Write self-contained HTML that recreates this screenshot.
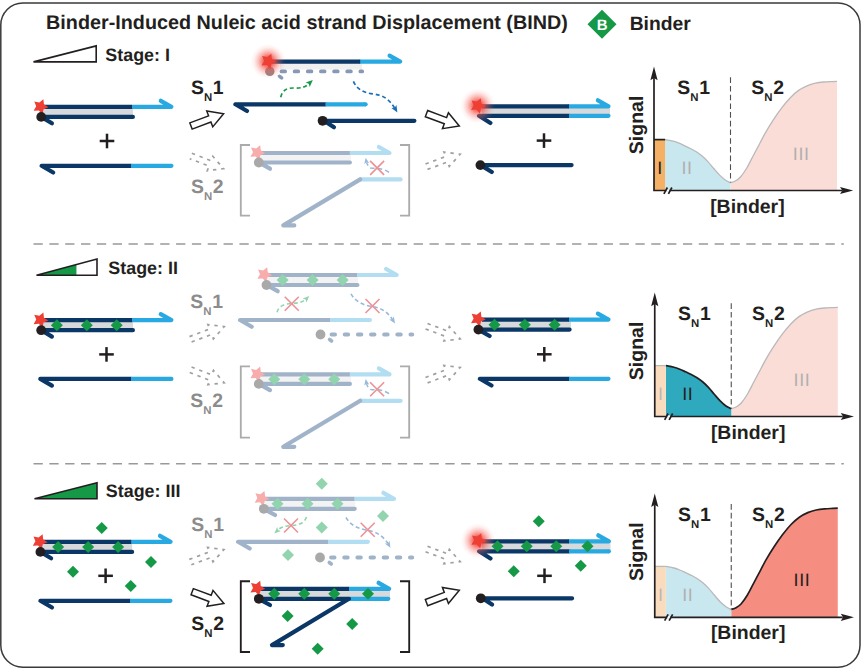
<!DOCTYPE html>
<html><head><meta charset="utf-8"><title>BIND</title>
<style>html,body{margin:0;padding:0;background:#fff;}svg{display:block;}text{font-family:"Liberation Sans",sans-serif;text-rendering:geometricPrecision;}</style></head><body>
<svg width="865" height="668" viewBox="0 0 865 668">
<defs><radialGradient id="glow" cx="50%" cy="50%" r="50%"><stop offset="0" stop-color="#f03c32" stop-opacity="0.95"/><stop offset="0.3" stop-color="#f24a40" stop-opacity="0.78"/><stop offset="0.6" stop-color="#f5645a" stop-opacity="0.36"/><stop offset="0.82" stop-color="#f7736a" stop-opacity="0.1"/><stop offset="1" stop-color="#f87b72" stop-opacity="0"/></radialGradient></defs>
<rect x="0" y="0" width="865" height="668" fill="#fff"/>
<rect x="0.8" y="3" width="859.2" height="664.2" rx="22" ry="22" fill="#fff" stroke="#3a3a3a" stroke-width="1.5"/>
<text x="46.1" y="28.8" font-size="19.78" font-weight="700" fill="#231f20">Binder-Induced Nuleic acid strand Displacement (BIND)</text>
<polygon points="587.5,24.3 602,9.8 616.5,24.3 602,38.8" fill="#159947"/>
<text x="602.1" y="29.7" font-size="15" font-weight="700" fill="#fff" text-anchor="middle">B</text>
<text x="629.7" y="30.2" font-size="19.3" font-weight="700" fill="#231f20">Binder</text>
<line x1="33.5" y1="244.1" x2="843.8" y2="244.1" stroke="#999" stroke-width="1.5" stroke-dasharray="9.3 6.54"/>
<line x1="33.5" y1="463.7" x2="843.8" y2="463.7" stroke="#999" stroke-width="1.5" stroke-dasharray="9.3 6.54"/>
<polygon points="33.5,61.9 96.2,61.9 96.2,45.9" fill="#fff"/><polygon points="33.5,61.9 96.2,61.9 96.2,45.9" fill="none" stroke="#231f20" stroke-width="1.6" stroke-linejoin="miter"/><text x="105.3" y="60.6" font-size="17.9" font-weight="700" fill="#231f20">Stage: I</text>
<polygon points="36.5,275.3 97,275.3 97,259" fill="#fff"/><polygon points="36.5,275.3 76.43,275.3 76.43,264.54" fill="#159947"/><polygon points="36.5,275.3 97,275.3 97,259" fill="none" stroke="#231f20" stroke-width="1.6" stroke-linejoin="miter"/><text x="108.3" y="273.8" font-size="17.9" font-weight="700" fill="#231f20">Stage: II</text>
<polygon points="34.5,498.7 97,498.7 97,482.7" fill="#fff"/><polygon points="34.5,498.7 97,498.7 97,482.7" fill="#159947"/><polygon points="34.5,498.7 97,498.7 97,482.7" fill="none" stroke="#231f20" stroke-width="1.6" stroke-linejoin="miter"/><text x="105.8" y="497.3" font-size="17.9" font-weight="700" fill="#231f20">Stage: III</text>
<rect x="42" y="107.8" width="91" height="8.1" fill="#d8d9da"/><polyline points="132,106.8 171.4,106.8 160.8,100.8" fill="none" stroke="#29a9e1" stroke-width="4.2" stroke-linecap="round" stroke-linejoin="round" /><line x1="44" y1="106.8" x2="132" y2="106.8" stroke="#0b3766" stroke-width="4.2" stroke-linecap="butt" /><polyline points="51.9,123.3 41.3,116.9 132.9,116.9" fill="none" stroke="#0b3766" stroke-width="4.2" stroke-linecap="round" stroke-linejoin="round" /><polygon points="43.4,99.18 43.96,104.37 48.38,107.16 43.62,109.3 42.34,114.36 38.83,110.49 33.62,110.84 36.21,106.31 34.27,101.46 39.38,102.52" fill="#ee3f34"/><circle cx="41.2" cy="116.9" r="4.9" fill="#231f20"/>
<line x1="99.7" y1="141" x2="114.3" y2="141" stroke="#231f20" stroke-width="2.5" stroke-linecap="butt" /><line x1="107" y1="133.7" x2="107" y2="148.3" stroke="#231f20" stroke-width="2.5" stroke-linecap="butt" />
<polyline points="53.2,172.5 41.6,165.8 131,165.8" fill="none" stroke="#0b3766" stroke-width="4.2" stroke-linecap="round" stroke-linejoin="round" /><line x1="131" y1="165.8" x2="171.4" y2="165.8" stroke="#29a9e1" stroke-width="4.2" stroke-linecap="butt" /><circle cx="171.4" cy="165.8" r="2.1" fill="#29a9e1"/>
<rect x="42" y="321.1" width="91" height="8.1" fill="#d8d9da"/><polyline points="132,320.1 171.4,320.1 160.8,314.1" fill="none" stroke="#29a9e1" stroke-width="4.2" stroke-linecap="round" stroke-linejoin="round" /><line x1="44" y1="320.1" x2="132" y2="320.1" stroke="#0b3766" stroke-width="4.2" stroke-linecap="butt" /><polyline points="51.9,336.6 41.3,330.2 132.9,330.2" fill="none" stroke="#0b3766" stroke-width="4.2" stroke-linecap="round" stroke-linejoin="round" /><polygon points="50.9,325.35 56.9,319.35 62.9,325.35 56.9,331.35" fill="#159947"/><polygon points="80.8,325.35 86.8,319.35 92.8,325.35 86.8,331.35" fill="#159947"/><polygon points="110.7,325.35 116.7,319.35 122.7,325.35 116.7,331.35" fill="#159947"/><polygon points="43.4,312.48 43.96,317.67 48.38,320.46 43.62,322.6 42.34,327.66 38.83,323.79 33.62,324.14 36.21,319.61 34.27,314.76 39.38,315.82" fill="#ee3f34"/><circle cx="41.2" cy="330.2" r="4.9" fill="#231f20"/>
<line x1="99.2" y1="354.4" x2="113.8" y2="354.4" stroke="#231f20" stroke-width="2.5" stroke-linecap="butt" /><line x1="106.5" y1="347.1" x2="106.5" y2="361.7" stroke="#231f20" stroke-width="2.5" stroke-linecap="butt" />
<polyline points="51.9,385.6 40.3,378.9 131,378.9" fill="none" stroke="#0b3766" stroke-width="4.2" stroke-linecap="round" stroke-linejoin="round" /><line x1="131" y1="378.9" x2="171.4" y2="378.9" stroke="#29a9e1" stroke-width="4.2" stroke-linecap="butt" /><circle cx="171.4" cy="378.9" r="2.1" fill="#29a9e1"/>
<rect x="41.2" y="542.8" width="91" height="8.1" fill="#d8d9da"/><polyline points="131.2,541.8 170.6,541.8 160,535.8" fill="none" stroke="#29a9e1" stroke-width="4.2" stroke-linecap="round" stroke-linejoin="round" /><line x1="43.2" y1="541.8" x2="131.2" y2="541.8" stroke="#0b3766" stroke-width="4.2" stroke-linecap="butt" /><polyline points="51.1,558.3 40.5,551.9 132.1,551.9" fill="none" stroke="#0b3766" stroke-width="4.2" stroke-linecap="round" stroke-linejoin="round" /><polygon points="52.1,547.05 58.1,541.05 64.1,547.05 58.1,553.05" fill="#159947"/><polygon points="82.1,547.05 88.1,541.05 94.1,547.05 88.1,553.05" fill="#159947"/><polygon points="112.1,547.05 118.1,541.05 124.1,547.05 118.1,553.05" fill="#159947"/><polygon points="42.6,534.18 43.16,539.37 47.58,542.16 42.82,544.3 41.54,549.36 38.03,545.49 32.82,545.84 35.41,541.31 33.47,536.46 38.58,537.52" fill="#ee3f34"/><circle cx="40.4" cy="551.9" r="4.9" fill="#231f20"/>
<line x1="98.3" y1="575.8" x2="112.9" y2="575.8" stroke="#231f20" stroke-width="2.5" stroke-linecap="butt" /><line x1="105.6" y1="568.5" x2="105.6" y2="583.1" stroke="#231f20" stroke-width="2.5" stroke-linecap="butt" />
<polyline points="52,607.5 40.4,600.8 130,600.8" fill="none" stroke="#0b3766" stroke-width="4.2" stroke-linecap="round" stroke-linejoin="round" /><line x1="130" y1="600.8" x2="170.4" y2="600.8" stroke="#29a9e1" stroke-width="4.2" stroke-linecap="butt" /><circle cx="170.4" cy="600.8" r="2.1" fill="#29a9e1"/>
<polygon points="95.75,528 101.75,522 107.75,528 101.75,534" fill="#159947"/>
<polygon points="145,562 151,556 157,562 151,568" fill="#159947"/>
<polygon points="67,571.75 73,565.75 79,571.75 73,577.75" fill="#159947"/>
<polygon points="124.75,586 130.75,580 136.75,586 130.75,592" fill="#159947"/>
<rect x="280" y="63.2" width="82" height="6.4" fill="#efeff0"/>
<polyline points="360.2,61.6 400.2,61.6 389.6,55.6" fill="none" stroke="#29a9e1" stroke-width="4.2" stroke-linecap="round" stroke-linejoin="round" /><line x1="272" y1="61.6" x2="360.2" y2="61.6" stroke="#0b3766" stroke-width="4.2" stroke-linecap="butt" />
<line x1="281.5" y1="71.4" x2="362.2" y2="71.4" stroke="#8799b4" stroke-width="3.8" stroke-linecap="round" stroke-dasharray="3.6 9.55"/>
<line x1="279.6" y1="76.4" x2="281.6" y2="77.9" stroke="#8799b4" stroke-width="3.6" stroke-linecap="round" />
<circle cx="269.8" cy="71.4" r="4.7" fill="#8c8586"/>
<circle cx="268.3" cy="61.4" r="17.5" fill="url(#glow)"/>
<polygon points="271.3,53.78 271.86,58.97 276.28,61.76 271.52,63.9 270.24,68.96 266.73,65.09 261.52,65.44 264.11,60.91 262.17,56.06 267.28,57.12" fill="#ee3f34"/>
<path d="M280.7,97.3 C282.5,89.5 288,87.8 294,88 C300,88.2 304.5,88 309.5,83.3" fill="none" stroke="#159947" stroke-width="1.7" stroke-dasharray="4 2.8" stroke-linecap="butt"/>
<polygon points="312.8,80 305.68,82.62 308.81,83.72 309.69,86.92" fill="#159947"/>
<path d="M353.4,81.3 C357,89.5 364,93 373.5,94 C383,95 389,99 394.6,108" fill="none" stroke="#1b6eb7" stroke-width="1.7" stroke-dasharray="4 2.8" stroke-linecap="butt"/>
<polygon points="397.4,112.5 396.45,104.97 394.67,107.77 391.35,107.91" fill="#1b6eb7"/>
<polyline points="247,111 235.4,104.3 325.4,104.3" fill="none" stroke="#0b3766" stroke-width="4.2" stroke-linecap="round" stroke-linejoin="round" /><line x1="325.4" y1="104.3" x2="365.6" y2="104.3" stroke="#29a9e1" stroke-width="4.2" stroke-linecap="butt" /><circle cx="365.6" cy="104.3" r="2.1" fill="#29a9e1"/>
<polyline points="334,127.2 324,120.8 414.4,120.8" fill="none" stroke="#0b3766" stroke-width="4.2" stroke-linecap="round" stroke-linejoin="round" />
<circle cx="322.6" cy="120.8" r="4.9" fill="#231f20"/>
<polyline points="250,145 240.8,145 240.8,215.6 250,215.6" fill="none" stroke="#ababab" stroke-width="1.85"/><polyline points="400,145 409.2,145 409.2,215.6 400,215.6" fill="none" stroke="#ababab" stroke-width="1.85"/>
<rect x="260" y="154" width="91" height="7.5" fill="#f3f3f4"/><polyline points="349.8,153 389.5,153 378.9,147" fill="none" stroke="#b3def2" stroke-width="4.2" stroke-linecap="round" stroke-linejoin="round" /><line x1="261" y1="153" x2="349.8" y2="153" stroke="#a0b3c9" stroke-width="4.2" stroke-linecap="butt" /><polyline points="270,168.7 258.8,162.5 349.9,162.5" fill="none" stroke="#a0b3c9" stroke-width="4.2" stroke-linecap="round" stroke-linejoin="round" /><polygon points="260.2,145.18 260.76,150.37 265.18,153.16 260.42,155.3 259.14,160.36 255.63,156.49 250.42,156.84 253.01,152.31 251.07,147.46 256.18,148.52" fill="#f6adab"/><circle cx="258.8" cy="162.5" r="4.9" fill="#a9a9a9"/><path d="M389,172.3 C383,167.8 376,168.6 371,168 C368.5,167.2 367.3,164.5 366.6,162.5" fill="none" stroke="#96b9db" stroke-width="1.5" stroke-dasharray="4.5 3" stroke-linecap="butt"/><polygon points="365.7,157.7 364.26,164.05 366.51,162.31 369.22,163.17" fill="#96b9db"/><line x1="370.1" y1="160.9" x2="384.1" y2="174.9" stroke="#ee9195" stroke-width="1.6" stroke-linecap="butt" /><line x1="370.1" y1="174.9" x2="384.1" y2="160.9" stroke="#ee9195" stroke-width="1.6" stroke-linecap="butt" /><line x1="360.2" y1="179.4" x2="400.6" y2="179.4" stroke="#b3def2" stroke-width="4.2" stroke-linecap="round" /><polyline points="360.2,179.4 283.3,225.4 294.3,225.4" fill="none" stroke="#a0b3c9" stroke-width="4.2" stroke-linecap="round" stroke-linejoin="round" />
<polyline points="250,366.4 240.8,366.4 240.8,437.6 250,437.6" fill="none" stroke="#ababab" stroke-width="1.85"/><polyline points="400,366.4 409.2,366.4 409.2,437.6 400,437.6" fill="none" stroke="#ababab" stroke-width="1.85"/>
<rect x="260" y="375.4" width="91" height="7.5" fill="#f3f3f4"/><polyline points="349.8,374.4 389.5,374.4 378.9,368.4" fill="none" stroke="#b3def2" stroke-width="4.2" stroke-linecap="round" stroke-linejoin="round" /><line x1="261" y1="374.4" x2="349.8" y2="374.4" stroke="#a0b3c9" stroke-width="4.2" stroke-linecap="butt" /><polyline points="270,390.1 258.8,383.9 349.9,383.9" fill="none" stroke="#a0b3c9" stroke-width="4.2" stroke-linecap="round" stroke-linejoin="round" /><polygon points="268.25,379.15 274.25,373.15 280.25,379.15 274.25,385.15" fill="#92d4ae"/><polygon points="298.25,379.15 304.25,373.15 310.25,379.15 304.25,385.15" fill="#92d4ae"/><polygon points="328.25,379.15 334.25,373.15 340.25,379.15 334.25,385.15" fill="#92d4ae"/><polygon points="260.2,366.58 260.76,371.77 265.18,374.56 260.42,376.7 259.14,381.76 255.63,377.89 250.42,378.24 253.01,373.71 251.07,368.86 256.18,369.92" fill="#f6adab"/><circle cx="258.8" cy="383.9" r="4.9" fill="#a9a9a9"/><path d="M389,393.7 C383,389.2 376,390 371,389.4 C368.5,388.6 367.3,385.9 366.6,383.9" fill="none" stroke="#96b9db" stroke-width="1.5" stroke-dasharray="4.5 3" stroke-linecap="butt"/><polygon points="365.7,379.1 364.26,385.45 366.51,383.71 369.22,384.57" fill="#96b9db"/><line x1="370.1" y1="382.3" x2="384.1" y2="396.3" stroke="#ee9195" stroke-width="1.6" stroke-linecap="butt" /><line x1="370.1" y1="396.3" x2="384.1" y2="382.3" stroke="#ee9195" stroke-width="1.6" stroke-linecap="butt" /><line x1="360.2" y1="400.8" x2="400.6" y2="400.8" stroke="#b3def2" stroke-width="4.2" stroke-linecap="round" /><polyline points="360.2,400.8 283.3,446.8 294.3,446.8" fill="none" stroke="#a0b3c9" stroke-width="4.2" stroke-linecap="round" stroke-linejoin="round" />
<polyline points="250,581.2 240.8,581.2 240.8,652 250,652" fill="none" stroke="#231f20" stroke-width="1.85"/><polyline points="400,581.2 409.2,581.2 409.2,652 400,652" fill="none" stroke="#231f20" stroke-width="1.85"/>
<rect x="260" y="589.8" width="130" height="8" fill="#d8d9da"/><polyline points="349,588.8 389.2,588.8 378.6,582.8" fill="none" stroke="#29a9e1" stroke-width="4.2" stroke-linecap="round" stroke-linejoin="round" /><line x1="261" y1="588.8" x2="349" y2="588.8" stroke="#0b3766" stroke-width="4.2" stroke-linecap="butt" /><line x1="349" y1="598.8" x2="388.3" y2="598.8" stroke="#29a9e1" stroke-width="4.2" stroke-linecap="round" /><polyline points="270,605 258.8,598.8 349,598.8 272,645.1 282.8,645.1" fill="none" stroke="#0b3766" stroke-width="4.2" stroke-linecap="round" stroke-linejoin="round" /><polygon points="268.25,593.8 274.25,587.8 280.25,593.8 274.25,599.8" fill="#159947"/><polygon points="298.25,593.8 304.25,587.8 310.25,593.8 304.25,599.8" fill="#159947"/><polygon points="328.25,593.8 334.25,587.8 340.25,593.8 334.25,599.8" fill="#159947"/><polygon points="362,593.8 368,587.8 374,593.8 368,599.8" fill="#159947"/><polygon points="260.2,580.78 260.76,585.97 265.18,588.76 260.42,590.9 259.14,595.96 255.63,592.09 250.42,592.44 253.01,587.91 251.07,583.06 256.18,584.12" fill="#ee3f34"/><circle cx="258.8" cy="598.8" r="4.9" fill="#231f20"/><polygon points="281.6,616 287.6,610 293.6,616 287.6,622" fill="#159947"/><polygon points="346.2,624 352.2,618 358.2,624 352.2,630" fill="#159947"/><polygon points="311.7,648.8 317.7,642.8 323.7,648.8 317.7,654.8" fill="#159947"/>
<rect x="267" y="276" width="91" height="8" fill="#f3f3f4"/><polyline points="357,275 396.7,275 386.1,269" fill="none" stroke="#b3def2" stroke-width="4.2" stroke-linecap="round" stroke-linejoin="round" /><line x1="268" y1="275" x2="357" y2="275" stroke="#a0b3c9" stroke-width="4.2" stroke-linecap="butt" /><polyline points="277.7,291.2 266.5,285 357.4,285" fill="none" stroke="#a0b3c9" stroke-width="4.2" stroke-linecap="round" stroke-linejoin="round" /><polygon points="276.6,280 282.6,274 288.6,280 282.6,286" fill="#92d4ae"/><polygon points="306.6,280 312.6,274 318.6,280 312.6,286" fill="#92d4ae"/><polygon points="336.6,280 342.6,274 348.6,280 342.6,286" fill="#92d4ae"/><polygon points="267.2,267.18 267.76,272.37 272.18,275.16 267.42,277.3 266.14,282.36 262.63,278.49 257.42,278.84 260.01,274.31 258.07,269.46 263.18,270.52" fill="#f6adab"/><circle cx="266.5" cy="285" r="4.9" fill="#a9a9a9"/>
<path d="M277,312.3 C279,305.5 285,303.8 291,303.5 C297,303.2 301.5,303 306,299" fill="none" stroke="#92d4ae" stroke-width="1.6" stroke-dasharray="4 2.8" stroke-linecap="butt"/>
<polygon points="309.3,296 302.68,298.44 305.59,299.46 306.41,302.43" fill="#92d4ae"/>
<line x1="284.75" y1="296.75" x2="298.75" y2="310.75" stroke="#ee9195" stroke-width="1.6" stroke-linecap="butt" /><line x1="284.75" y1="310.75" x2="298.75" y2="296.75" stroke="#ee9195" stroke-width="1.6" stroke-linecap="butt" />
<path d="M351,293.8 C355,301 362,305 371.5,306.3 C381,307.6 387,311.5 392.5,319.5" fill="none" stroke="#96b9db" stroke-width="1.6" stroke-dasharray="4 2.8" stroke-linecap="butt"/>
<polygon points="395,323.5 393.87,316.54 392.31,319.2 389.24,319.43" fill="#96b9db"/>
<line x1="365.5" y1="299" x2="379.5" y2="313" stroke="#ee9195" stroke-width="1.6" stroke-linecap="butt" /><line x1="365.5" y1="313" x2="379.5" y2="299" stroke="#ee9195" stroke-width="1.6" stroke-linecap="butt" />
<polyline points="251.7,326.7 240.1,320 330,320" fill="none" stroke="#a0b3c9" stroke-width="4.2" stroke-linecap="round" stroke-linejoin="round" /><line x1="330" y1="320" x2="369.9" y2="320" stroke="#b3def2" stroke-width="4.2" stroke-linecap="butt" /><circle cx="369.9" cy="320" r="2.1" fill="#b3def2"/>
<line x1="331.5" y1="334.5" x2="412.3" y2="334.5" stroke="#a0b3c9" stroke-width="3.8" stroke-linecap="round" stroke-dasharray="3.6 9.55"/>
<line x1="329.6" y1="339.5" x2="331.6" y2="341" stroke="#a0b3c9" stroke-width="3.6" stroke-linecap="round" />
<circle cx="320.5" cy="334.5" r="4.9" fill="#a9a9a9"/>
<rect x="264.3" y="499.8" width="91" height="8" fill="#f3f3f4"/><polyline points="354.3,498.8 394,498.8 383.4,492.8" fill="none" stroke="#b3def2" stroke-width="4.2" stroke-linecap="round" stroke-linejoin="round" /><line x1="265.3" y1="498.8" x2="354.3" y2="498.8" stroke="#a0b3c9" stroke-width="4.2" stroke-linecap="butt" /><polyline points="275,515 263.8,508.8 354.7,508.8" fill="none" stroke="#a0b3c9" stroke-width="4.2" stroke-linecap="round" stroke-linejoin="round" /><polygon points="271.5,503.8 277.5,497.8 283.5,503.8 277.5,509.8" fill="#92d4ae"/><polygon points="301.5,503.8 307.5,497.8 313.5,503.8 307.5,509.8" fill="#92d4ae"/><polygon points="331.5,503.8 337.5,497.8 343.5,503.8 337.5,509.8" fill="#92d4ae"/><polygon points="264.5,490.98 265.06,496.17 269.48,498.96 264.72,501.1 263.44,506.16 259.93,502.29 254.72,502.64 257.31,498.11 255.37,493.26 260.48,494.32" fill="#f6adab"/><circle cx="263.8" cy="508.8" r="4.9" fill="#a9a9a9"/>
<path d="M306.5,517 C304.5,523.5 298,525.2 292,525.5 C286,525.8 281.5,526.5 277.5,530.3" fill="none" stroke="#92d4ae" stroke-width="1.6" stroke-dasharray="4 2.8" stroke-linecap="butt"/>
<polygon points="274.3,533.4 280.92,530.96 278.01,529.94 277.19,526.97" fill="#92d4ae"/>
<line x1="284" y1="518.5" x2="298" y2="532.5" stroke="#ee9195" stroke-width="1.6" stroke-linecap="butt" /><line x1="284" y1="532.5" x2="298" y2="518.5" stroke="#ee9195" stroke-width="1.6" stroke-linecap="butt" />
<path d="M346,517.5 C350,524.5 357,528.5 366.5,530 C376,531.5 382.5,535.5 388,543.5" fill="none" stroke="#96b9db" stroke-width="1.6" stroke-dasharray="4 2.8" stroke-linecap="butt"/>
<polygon points="390.4,547.8 389.51,540.81 387.86,543.41 384.79,543.54" fill="#96b9db"/>
<line x1="360.7" y1="522.7" x2="374.7" y2="536.7" stroke="#ee9195" stroke-width="1.6" stroke-linecap="butt" /><line x1="360.7" y1="536.7" x2="374.7" y2="522.7" stroke="#ee9195" stroke-width="1.6" stroke-linecap="butt" />
<polyline points="249.7,548.5 238.1,541.8 328,541.8" fill="none" stroke="#a0b3c9" stroke-width="4.2" stroke-linecap="round" stroke-linejoin="round" /><line x1="328" y1="541.8" x2="367.9" y2="541.8" stroke="#b3def2" stroke-width="4.2" stroke-linecap="butt" /><circle cx="367.9" cy="541.8" r="2.1" fill="#b3def2"/>
<line x1="331" y1="557.5" x2="412.3" y2="557.5" stroke="#a0b3c9" stroke-width="3.8" stroke-linecap="round" stroke-dasharray="3.6 9.55"/>
<line x1="329.3" y1="562.5" x2="331.3" y2="564" stroke="#a0b3c9" stroke-width="3.6" stroke-linecap="round" />
<circle cx="320" cy="557.5" r="4.9" fill="#a9a9a9"/>
<polygon points="315.75,483.75 321.75,477.75 327.75,483.75 321.75,489.75" fill="#92d4ae"/>
<polygon points="315.75,527.5 321.75,521.5 327.75,527.5 321.75,533.5" fill="#92d4ae"/>
<polygon points="377,516 383,510 389,516 383,522" fill="#92d4ae"/>
<polygon points="282,555 288,549 294,555 288,561" fill="#92d4ae"/>
<rect x="482" y="107.5" width="128" height="7.3" fill="#d8d9da"/>
<polyline points="569,106.3 608.5,106.3 597.9,100.3" fill="none" stroke="#29a9e1" stroke-width="4.2" stroke-linecap="round" stroke-linejoin="round" /><line x1="482" y1="106.3" x2="569" y2="106.3" stroke="#0b3766" stroke-width="4.2" stroke-linecap="butt" />
<polyline points="490.4,123 479,115.8 569,115.8" fill="none" stroke="#0b3766" stroke-width="4.2" stroke-linecap="round" stroke-linejoin="round" /><line x1="569" y1="115.8" x2="608.5" y2="115.8" stroke="#29a9e1" stroke-width="4.2" stroke-linecap="butt" /><circle cx="608.5" cy="115.8" r="2.1" fill="#29a9e1"/>
<circle cx="477.8" cy="105.9" r="17.5" fill="url(#glow)"/>
<polygon points="480.8,98.28 481.36,103.47 485.78,106.26 481.02,108.4 479.74,113.46 476.23,109.59 471.02,109.94 473.61,105.41 471.67,100.56 476.78,101.62" fill="#ee3f34"/>
<line x1="536.7" y1="140.6" x2="551.3" y2="140.6" stroke="#231f20" stroke-width="2.5" stroke-linecap="butt" /><line x1="544" y1="133.3" x2="544" y2="147.9" stroke="#231f20" stroke-width="2.5" stroke-linecap="butt" />
<polyline points="491.8,172 480.6,165.1 571.6,165.1" fill="none" stroke="#0b3766" stroke-width="4.2" stroke-linecap="round" stroke-linejoin="round" />
<circle cx="480.4" cy="165.1" r="4.9" fill="#231f20"/>
<rect x="480" y="320.8" width="91" height="7.6" fill="#d8d9da"/>
<polyline points="569,319.6 608.5,319.6 597.9,313.6" fill="none" stroke="#29a9e1" stroke-width="4.2" stroke-linecap="round" stroke-linejoin="round" /><line x1="482" y1="319.6" x2="569" y2="319.6" stroke="#0b3766" stroke-width="4.2" stroke-linecap="butt" />
<polyline points="489.6,336 478.4,329.6 569.6,329.6" fill="none" stroke="#0b3766" stroke-width="4.2" stroke-linecap="round" stroke-linejoin="round" />
<polygon points="488.5,324.8 494.5,318.8 500.5,324.8 494.5,330.8" fill="#159947"/>
<polygon points="518.8,324.8 524.8,318.8 530.8,324.8 524.8,330.8" fill="#159947"/>
<polygon points="548.6,324.8 554.6,318.8 560.6,324.8 554.6,330.8" fill="#159947"/>
<polygon points="480.8,311.48 481.36,316.67 485.78,319.46 481.02,321.6 479.74,326.66 476.23,322.79 471.02,323.14 473.61,318.61 471.67,313.76 476.78,314.82" fill="#ee3f34"/>
<circle cx="478.4" cy="329.6" r="4.9" fill="#231f20"/>
<line x1="537" y1="354.3" x2="551.6" y2="354.3" stroke="#231f20" stroke-width="2.5" stroke-linecap="butt" /><line x1="544.3" y1="347" x2="544.3" y2="361.6" stroke="#231f20" stroke-width="2.5" stroke-linecap="butt" />
<polyline points="491.5,385.5 479.9,378.8 569,378.8" fill="none" stroke="#0b3766" stroke-width="4.2" stroke-linecap="round" stroke-linejoin="round" /><line x1="569" y1="378.8" x2="608.5" y2="378.8" stroke="#29a9e1" stroke-width="4.2" stroke-linecap="butt" /><circle cx="608.5" cy="378.8" r="2.1" fill="#29a9e1"/>
<rect x="482" y="542.5" width="128.5" height="7.5" fill="#d8d9da"/>
<polyline points="569,541.3 608.9,541.3 598.3,535.3" fill="none" stroke="#29a9e1" stroke-width="4.2" stroke-linecap="round" stroke-linejoin="round" /><line x1="482" y1="541.3" x2="569" y2="541.3" stroke="#0b3766" stroke-width="4.2" stroke-linecap="butt" />
<polyline points="490.5,558.5 479.1,551.3 569,551.3" fill="none" stroke="#0b3766" stroke-width="4.2" stroke-linecap="round" stroke-linejoin="round" /><line x1="569" y1="551.3" x2="608.9" y2="551.3" stroke="#29a9e1" stroke-width="4.2" stroke-linecap="butt" /><circle cx="608.9" cy="551.3" r="2.1" fill="#29a9e1"/>
<polygon points="491.5,546.3 497.5,540.3 503.5,546.3 497.5,552.3" fill="#159947"/>
<polygon points="520.75,546.3 526.75,540.3 532.75,546.3 526.75,552.3" fill="#159947"/>
<polygon points="550.25,546.3 556.25,540.3 562.25,546.3 556.25,552.3" fill="#159947"/>
<polygon points="581.5,546.3 587.5,540.3 593.5,546.3 587.5,552.3" fill="#159947"/>
<circle cx="478.2" cy="540.8" r="17.5" fill="url(#glow)"/>
<polygon points="481.2,533.18 481.76,538.37 486.18,541.16 481.42,543.3 480.14,548.36 476.63,544.49 471.42,544.84 474.01,540.31 472.07,535.46 477.18,536.52" fill="#ee3f34"/>
<polygon points="532.75,521.25 538.75,515.25 544.75,521.25 538.75,527.25" fill="#159947"/>
<polygon points="574.75,565.75 580.75,559.75 586.75,565.75 580.75,571.75" fill="#159947"/>
<polygon points="507.75,571.25 513.75,565.25 519.75,571.25 513.75,577.25" fill="#159947"/>
<line x1="537.2" y1="575.8" x2="551.8" y2="575.8" stroke="#231f20" stroke-width="2.5" stroke-linecap="butt" /><line x1="544.5" y1="568.5" x2="544.5" y2="583.1" stroke="#231f20" stroke-width="2.5" stroke-linecap="butt" />
<polyline points="492,604.6 482.5,598.3 572.1,598.3" fill="none" stroke="#0b3766" stroke-width="4.2" stroke-linecap="round" stroke-linejoin="round" />
<circle cx="480.8" cy="598.3" r="4.9" fill="#231f20"/>
<text x="190.9" y="94.4" font-size="19.4" font-weight="700" fill="#231f20">S<tspan font-size="11.4" dy="6.9" dx="0.1">N</tspan><tspan font-size="19.4" dy="-6.9" dx="0.7">1</tspan></text>
<polygon points="189.84,122.91 208.59,115.84 206.75,110.97 223.6,113.7 212.75,126.88 210.92,122.01 192.16,129.09" fill="#fff" stroke="#231f20" stroke-width="1.5" stroke-linejoin="miter"/>
<polygon points="427.66,110.51 446.6,117.61 448.43,112.74 459.3,125.9 442.46,128.66 444.28,123.79 425.34,116.69" fill="#fff" stroke="#231f20" stroke-width="1.5" stroke-linejoin="miter"/>
<text x="190.9" y="193" font-size="19.4" font-weight="700" fill="#8c8c8c">S<tspan font-size="11.4" dy="6.9" dx="0.1">N</tspan><tspan font-size="19.4" dy="-6.9" dx="0.7">2</tspan></text>
<polyline points="191.85,153.3 211.13,160.76 212.86,156.28 223.6,168.7 207.3,170.64 209.03,166.17 189.75,158.7" fill="none" stroke="#a0a0a0" stroke-width="1.7" stroke-dasharray="3.4 4.8" stroke-linecap="butt" stroke-linejoin="miter"/>
<polyline points="425.49,163.98 445.6,156.52 443.93,152.02 460.2,154.2 449.28,166.46 447.61,161.96 427.51,169.42" fill="none" stroke="#a0a0a0" stroke-width="1.7" stroke-dasharray="3.4 4.8" stroke-linecap="butt" stroke-linejoin="miter"/>
<text x="190.3" y="307.6" font-size="19.4" font-weight="700" fill="#8c8c8c">S<tspan font-size="11.4" dy="6.9" dx="0.1">N</tspan><tspan font-size="19.4" dy="-6.9" dx="0.7">1</tspan></text>
<polyline points="189.48,336.59 209.61,329 207.92,324.51 224.2,326.6 213.35,338.92 211.65,334.43 191.52,342.01" fill="none" stroke="#a0a0a0" stroke-width="1.7" stroke-dasharray="3.4 4.8" stroke-linecap="butt" stroke-linejoin="miter"/>
<polyline points="427.52,323.49 447.65,331.07 449.35,326.58 460.2,338.9 443.92,340.99 445.61,336.5 425.48,328.91" fill="none" stroke="#a0a0a0" stroke-width="1.7" stroke-dasharray="3.4 4.8" stroke-linecap="butt" stroke-linejoin="miter"/>
<text x="190.3" y="407.3" font-size="19.4" font-weight="700" fill="#8c8c8c">S<tspan font-size="11.4" dy="6.9" dx="0.1">N</tspan><tspan font-size="19.4" dy="-6.9" dx="0.7">2</tspan></text>
<polyline points="191.55,367 211.74,374.84 213.47,370.37 224.2,382.8 207.9,384.72 209.63,380.25 189.45,372.4" fill="none" stroke="#a0a0a0" stroke-width="1.7" stroke-dasharray="3.4 4.8" stroke-linecap="butt" stroke-linejoin="miter"/>
<polyline points="425.48,377.49 445.61,369.9 443.92,365.41 460.2,367.5 449.35,379.82 447.65,375.33 427.52,382.91" fill="none" stroke="#a0a0a0" stroke-width="1.7" stroke-dasharray="3.4 4.8" stroke-linecap="butt" stroke-linejoin="miter"/>
<text x="191.2" y="530.6" font-size="19.4" font-weight="700" fill="#8c8c8c">S<tspan font-size="11.4" dy="6.9" dx="0.1">N</tspan><tspan font-size="19.4" dy="-6.9" dx="0.7">1</tspan></text>
<polyline points="189.29,559.38 209.3,551.94 207.63,547.44 223.9,549.6 212.99,561.87 211.32,557.37 191.31,564.82" fill="none" stroke="#a0a0a0" stroke-width="1.7" stroke-dasharray="3.4 4.8" stroke-linecap="butt" stroke-linejoin="miter"/>
<polyline points="427.52,546.29 447.65,553.87 449.35,549.38 460.2,561.7 443.92,563.79 445.61,559.3 425.48,551.71" fill="none" stroke="#a0a0a0" stroke-width="1.7" stroke-dasharray="3.4 4.8" stroke-linecap="butt" stroke-linejoin="miter"/>
<text x="191.2" y="629.8" font-size="19.4" font-weight="700" fill="#231f20">S<tspan font-size="11.4" dy="6.9" dx="0.1">N</tspan><tspan font-size="19.4" dy="-6.9" dx="0.7">2</tspan></text>
<polygon points="193.35,588.61 211.18,595.24 213,590.37 223.9,603.5 207.06,606.3 208.88,601.43 191.05,594.79" fill="#fff" stroke="#231f20" stroke-width="1.5" stroke-linejoin="miter"/>
<polygon points="425.34,599.51 444.28,592.41 442.46,587.54 459.3,590.3 448.43,603.46 446.6,598.59 427.66,605.69" fill="#fff" stroke="#231f20" stroke-width="1.5" stroke-linejoin="miter"/>
<g transform="translate(0,0)"><path d="M730.5,182.6 C731.3,182.33 733.63,181.93 735.3,181 C736.97,180.07 738.58,179.17 740.5,177 C742.42,174.83 744.7,171.5 746.8,168 C748.9,164.5 750.9,160.17 753.1,156 C755.3,151.83 758,146.78 760,143 C762,139.22 762.85,137.18 765.1,133.3 C767.35,129.42 770.7,123.97 773.5,119.7 C776.3,115.43 779.1,111.37 781.9,107.7 C784.7,104.03 787.52,100.58 790.3,97.7 C793.08,94.82 795.82,92.38 798.6,90.4 C801.38,88.42 804.2,87 807,85.8 C809.8,84.6 812.6,83.83 815.4,83.2 C818.2,82.57 821.02,82.27 823.8,82 C826.58,81.73 829.9,81.7 832.1,81.6 C834.3,81.5 836.18,81.43 837,81.4 L837,190.5 L730.5,190.5 Z" fill="#fbddd8"/><path d="M665.1,139.5 C666.45,139.78 670.88,140.58 673.2,141.2 C675.52,141.82 677.07,142.43 679,143.2 C680.93,143.97 682.88,144.92 684.8,145.8 C686.72,146.68 688.58,147.52 690.5,148.5 C692.42,149.48 694.37,150.45 696.3,151.7 C698.23,152.95 700.17,154.35 702.1,156 C704.03,157.65 705.97,159.52 707.9,161.6 C709.83,163.68 711.78,166.28 713.7,168.5 C715.62,170.72 717.48,172.98 719.4,174.9 C721.32,176.82 723.35,178.68 725.2,180 C727.05,181.32 729.62,182.33 730.5,182.8 L730.5,190.5 L665.1,190.5 Z" fill="#c9e7ef"/><rect x="654" y="139.6" width="11.1" height="50.9" fill="#f4b064"/><path d="M730.5,182.6 C731.3,182.33 733.63,181.93 735.3,181 C736.97,180.07 738.58,179.17 740.5,177 C742.42,174.83 744.7,171.5 746.8,168 C748.9,164.5 750.9,160.17 753.1,156 C755.3,151.83 758,146.78 760,143 C762,139.22 762.85,137.18 765.1,133.3 C767.35,129.42 770.7,123.97 773.5,119.7 C776.3,115.43 779.1,111.37 781.9,107.7 C784.7,104.03 787.52,100.58 790.3,97.7 C793.08,94.82 795.82,92.38 798.6,90.4 C801.38,88.42 804.2,87 807,85.8 C809.8,84.6 812.6,83.83 815.4,83.2 C818.2,82.57 821.02,82.27 823.8,82 C826.58,81.73 829.9,81.7 832.1,81.6 C834.3,81.5 836.18,81.43 837,81.4" fill="none" stroke="#b9b9b9" stroke-width="1.3"/><path d="M665.1,139.5 C666.45,139.78 670.88,140.58 673.2,141.2 C675.52,141.82 677.07,142.43 679,143.2 C680.93,143.97 682.88,144.92 684.8,145.8 C686.72,146.68 688.58,147.52 690.5,148.5 C692.42,149.48 694.37,150.45 696.3,151.7 C698.23,152.95 700.17,154.35 702.1,156 C704.03,157.65 705.97,159.52 707.9,161.6 C709.83,163.68 711.78,166.28 713.7,168.5 C715.62,170.72 717.48,172.98 719.4,174.9 C721.32,176.82 723.35,178.68 725.2,180 C727.05,181.32 729.62,182.33 730.5,182.8" fill="none" stroke="#b9b9b9" stroke-width="1.3"/><line x1="654" y1="139.6" x2="665.1" y2="139.6" stroke="#231f20" stroke-width="1.7"/><line x1="730.5" y1="77.3" x2="730.5" y2="182.4" stroke="#505050" stroke-width="1.1" stroke-dasharray="5.6 3.1"/><polyline points="654,78 654,190.5 842,190.5" fill="none" stroke="#231f20" stroke-width="1.7"/><polygon points="654,66.6 650.4,80.3 654,78 657.6,80.3" fill="#231f20"/><polygon points="853.2,190.5 840,186.9 842.3,190.5 840,194.1" fill="#231f20"/><rect x="666.3" y="189.3" width="3.2" height="2.4" fill="#fff"/><line x1="663.9" y1="193.9" x2="667.4" y2="187.5" stroke="#231f20" stroke-width="1.7"/><line x1="668.4" y1="193.9" x2="671.9" y2="187.5" stroke="#231f20" stroke-width="1.7"/><text x="677.2" y="93.9" font-size="19.4" font-weight="700" fill="#231f20">S<tspan font-size="11.4" dy="6.9" dx="0.1">N</tspan><tspan font-size="19.4" dy="-6.9" dx="0.7">1</tspan></text><text x="751.2" y="93.9" font-size="19.4" font-weight="700" fill="#231f20">S<tspan font-size="11.4" dy="6.9" dx="0.1">N</tspan><tspan font-size="19.4" dy="-6.9" dx="0.7">2</tspan></text><text x="659.7" y="173.9" font-size="18" text-anchor="middle" fill="#231f20">I</text><text x="687.0" y="173.9" font-size="18" letter-spacing="0.6" text-anchor="middle" fill="#b0b0b0">II</text><text x="801.2" y="159.6" font-size="18" letter-spacing="0.6" text-anchor="middle" fill="#b0b0b0">III</text><text x="747.4" y="212.5" font-size="19.45" font-weight="700" text-anchor="middle" fill="#231f20">[Binder]</text><text transform="translate(642.6,124.9) rotate(-90)" font-size="19.5" font-weight="700" text-anchor="middle" fill="#231f20">Signal</text></g>
<g transform="translate(0.75,0)"><path d="M730.5,408.6 C731.3,408.33 733.63,407.93 735.3,407 C736.97,406.07 738.58,405.17 740.5,403 C742.42,400.83 744.7,397.5 746.8,394 C748.9,390.5 750.9,386.17 753.1,382 C755.3,377.83 758,372.78 760,369 C762,365.22 762.85,363.18 765.1,359.3 C767.35,355.42 770.7,349.97 773.5,345.7 C776.3,341.43 779.1,337.37 781.9,333.7 C784.7,330.03 787.52,326.58 790.3,323.7 C793.08,320.82 795.82,318.38 798.6,316.4 C801.38,314.42 804.2,313 807,311.8 C809.8,310.6 812.6,309.83 815.4,309.2 C818.2,308.57 821.02,308.27 823.8,308 C826.58,307.73 829.9,307.7 832.1,307.6 C834.3,307.5 836.18,307.43 837,307.4 L837,416.5 L730.5,416.5 Z" fill="#fbddd8"/><path d="M665.1,365.5 C666.45,365.78 670.88,366.58 673.2,367.2 C675.52,367.82 677.07,368.43 679,369.2 C680.93,369.97 682.88,370.92 684.8,371.8 C686.72,372.68 688.58,373.52 690.5,374.5 C692.42,375.48 694.37,376.45 696.3,377.7 C698.23,378.95 700.17,380.35 702.1,382 C704.03,383.65 705.97,385.52 707.9,387.6 C709.83,389.68 711.78,392.28 713.7,394.5 C715.62,396.72 717.48,398.98 719.4,400.9 C721.32,402.82 723.35,404.68 725.2,406 C727.05,407.32 729.62,408.33 730.5,408.8 L730.5,416.5 L665.1,416.5 Z" fill="#2fa9bd"/><rect x="654" y="365.6" width="11.1" height="50.9" fill="#f9dcbd"/><path d="M730.5,408.6 C731.3,408.33 733.63,407.93 735.3,407 C736.97,406.07 738.58,405.17 740.5,403 C742.42,400.83 744.7,397.5 746.8,394 C748.9,390.5 750.9,386.17 753.1,382 C755.3,377.83 758,372.78 760,369 C762,365.22 762.85,363.18 765.1,359.3 C767.35,355.42 770.7,349.97 773.5,345.7 C776.3,341.43 779.1,337.37 781.9,333.7 C784.7,330.03 787.52,326.58 790.3,323.7 C793.08,320.82 795.82,318.38 798.6,316.4 C801.38,314.42 804.2,313 807,311.8 C809.8,310.6 812.6,309.83 815.4,309.2 C818.2,308.57 821.02,308.27 823.8,308 C826.58,307.73 829.9,307.7 832.1,307.6 C834.3,307.5 836.18,307.43 837,307.4" fill="none" stroke="#b9b9b9" stroke-width="1.3"/><path d="M665.1,365.5 C666.45,365.78 670.88,366.58 673.2,367.2 C675.52,367.82 677.07,368.43 679,369.2 C680.93,369.97 682.88,370.92 684.8,371.8 C686.72,372.68 688.58,373.52 690.5,374.5 C692.42,375.48 694.37,376.45 696.3,377.7 C698.23,378.95 700.17,380.35 702.1,382 C704.03,383.65 705.97,385.52 707.9,387.6 C709.83,389.68 711.78,392.28 713.7,394.5 C715.62,396.72 717.48,398.98 719.4,400.9 C721.32,402.82 723.35,404.68 725.2,406 C727.05,407.32 729.62,408.33 730.5,408.8" fill="none" stroke="#231f20" stroke-width="1.7"/><line x1="654" y1="365.6" x2="665.1" y2="365.6" stroke="#b9b9b9" stroke-width="1.3"/><line x1="730.5" y1="303.3" x2="730.5" y2="408.4" stroke="#505050" stroke-width="1.1" stroke-dasharray="5.6 3.1"/><polyline points="654,304 654,416.5 842,416.5" fill="none" stroke="#231f20" stroke-width="1.7"/><polygon points="654,292.6 650.4,306.3 654,304 657.6,306.3" fill="#231f20"/><polygon points="853.2,416.5 840,412.9 842.3,416.5 840,420.1" fill="#231f20"/><rect x="666.3" y="415.3" width="3.2" height="2.4" fill="#fff"/><line x1="663.9" y1="419.9" x2="667.4" y2="413.5" stroke="#231f20" stroke-width="1.7"/><line x1="668.4" y1="419.9" x2="671.9" y2="413.5" stroke="#231f20" stroke-width="1.7"/><text x="677.2" y="319.9" font-size="19.4" font-weight="700" fill="#231f20">S<tspan font-size="11.4" dy="6.9" dx="0.1">N</tspan><tspan font-size="19.4" dy="-6.9" dx="0.7">1</tspan></text><text x="751.2" y="319.9" font-size="19.4" font-weight="700" fill="#231f20">S<tspan font-size="11.4" dy="6.9" dx="0.1">N</tspan><tspan font-size="19.4" dy="-6.9" dx="0.7">2</tspan></text><text x="659.7" y="399.9" font-size="18" text-anchor="middle" fill="#b9b9b9">I</text><text x="687.0" y="399.9" font-size="18" letter-spacing="0.6" text-anchor="middle" fill="#231f20">II</text><text x="801.2" y="385.6" font-size="18" letter-spacing="0.6" text-anchor="middle" fill="#b0b0b0">III</text><text x="747.4" y="438.5" font-size="19.45" font-weight="700" text-anchor="middle" fill="#231f20">[Binder]</text><text transform="translate(642.6,350.9) rotate(-90)" font-size="19.5" font-weight="700" text-anchor="middle" fill="#231f20">Signal</text></g>
<g transform="translate(0.75,0)"><path d="M730.5,609.4 C731.3,609.13 733.63,608.73 735.3,607.8 C736.97,606.87 738.58,605.97 740.5,603.8 C742.42,601.63 744.7,598.3 746.8,594.8 C748.9,591.3 750.9,586.97 753.1,582.8 C755.3,578.63 758,573.58 760,569.8 C762,566.02 762.85,563.98 765.1,560.1 C767.35,556.22 770.7,550.77 773.5,546.5 C776.3,542.23 779.1,538.17 781.9,534.5 C784.7,530.83 787.52,527.38 790.3,524.5 C793.08,521.62 795.82,519.18 798.6,517.2 C801.38,515.22 804.2,513.8 807,512.6 C809.8,511.4 812.6,510.63 815.4,510 C818.2,509.37 821.02,509.07 823.8,508.8 C826.58,508.53 829.9,508.5 832.1,508.4 C834.3,508.3 836.18,508.23 837,508.2 L837,617.3 L730.5,617.3 Z" fill="#f58d80"/><path d="M665.1,566.3 C666.45,566.58 670.88,567.38 673.2,568 C675.52,568.62 677.07,569.23 679,570 C680.93,570.77 682.88,571.72 684.8,572.6 C686.72,573.48 688.58,574.32 690.5,575.3 C692.42,576.28 694.37,577.25 696.3,578.5 C698.23,579.75 700.17,581.15 702.1,582.8 C704.03,584.45 705.97,586.32 707.9,588.4 C709.83,590.48 711.78,593.08 713.7,595.3 C715.62,597.52 717.48,599.78 719.4,601.7 C721.32,603.62 723.35,605.48 725.2,606.8 C727.05,608.12 729.62,609.13 730.5,609.6 L730.5,617.3 L665.1,617.3 Z" fill="#c9e7ef"/><rect x="654" y="566.4" width="11.1" height="50.9" fill="#f9dcbd"/><path d="M730.5,609.4 C731.3,609.13 733.63,608.73 735.3,607.8 C736.97,606.87 738.58,605.97 740.5,603.8 C742.42,601.63 744.7,598.3 746.8,594.8 C748.9,591.3 750.9,586.97 753.1,582.8 C755.3,578.63 758,573.58 760,569.8 C762,566.02 762.85,563.98 765.1,560.1 C767.35,556.22 770.7,550.77 773.5,546.5 C776.3,542.23 779.1,538.17 781.9,534.5 C784.7,530.83 787.52,527.38 790.3,524.5 C793.08,521.62 795.82,519.18 798.6,517.2 C801.38,515.22 804.2,513.8 807,512.6 C809.8,511.4 812.6,510.63 815.4,510 C818.2,509.37 821.02,509.07 823.8,508.8 C826.58,508.53 829.9,508.5 832.1,508.4 C834.3,508.3 836.18,508.23 837,508.2" fill="none" stroke="#231f20" stroke-width="1.7"/><path d="M665.1,566.3 C666.45,566.58 670.88,567.38 673.2,568 C675.52,568.62 677.07,569.23 679,570 C680.93,570.77 682.88,571.72 684.8,572.6 C686.72,573.48 688.58,574.32 690.5,575.3 C692.42,576.28 694.37,577.25 696.3,578.5 C698.23,579.75 700.17,581.15 702.1,582.8 C704.03,584.45 705.97,586.32 707.9,588.4 C709.83,590.48 711.78,593.08 713.7,595.3 C715.62,597.52 717.48,599.78 719.4,601.7 C721.32,603.62 723.35,605.48 725.2,606.8 C727.05,608.12 729.62,609.13 730.5,609.6" fill="none" stroke="#b9b9b9" stroke-width="1.3"/><line x1="654" y1="566.4" x2="665.1" y2="566.4" stroke="#b9b9b9" stroke-width="1.3"/><line x1="730.5" y1="504.1" x2="730.5" y2="609.2" stroke="#505050" stroke-width="1.1" stroke-dasharray="5.6 3.1"/><polyline points="654,504.8 654,617.3 842,617.3" fill="none" stroke="#231f20" stroke-width="1.7"/><polygon points="654,493.4 650.4,507.1 654,504.8 657.6,507.1" fill="#231f20"/><polygon points="853.2,617.3 840,613.7 842.3,617.3 840,620.9" fill="#231f20"/><rect x="666.3" y="616.1" width="3.2" height="2.4" fill="#fff"/><line x1="663.9" y1="620.7" x2="667.4" y2="614.3" stroke="#231f20" stroke-width="1.7"/><line x1="668.4" y1="620.7" x2="671.9" y2="614.3" stroke="#231f20" stroke-width="1.7"/><text x="677.2" y="520.7" font-size="19.4" font-weight="700" fill="#231f20">S<tspan font-size="11.4" dy="6.9" dx="0.1">N</tspan><tspan font-size="19.4" dy="-6.9" dx="0.7">1</tspan></text><text x="751.2" y="520.7" font-size="19.4" font-weight="700" fill="#231f20">S<tspan font-size="11.4" dy="6.9" dx="0.1">N</tspan><tspan font-size="19.4" dy="-6.9" dx="0.7">2</tspan></text><text x="659.7" y="600.7" font-size="18" text-anchor="middle" fill="#b9b9b9">I</text><text x="687.0" y="600.7" font-size="18" letter-spacing="0.6" text-anchor="middle" fill="#b0b0b0">II</text><text x="801.2" y="586.4" font-size="18" letter-spacing="0.6" text-anchor="middle" fill="#231f20">III</text><text x="747.4" y="639.3" font-size="19.45" font-weight="700" text-anchor="middle" fill="#231f20">[Binder]</text><text transform="translate(642.6,551.7) rotate(-90)" font-size="19.5" font-weight="700" text-anchor="middle" fill="#231f20">Signal</text></g>
</svg></body></html>
